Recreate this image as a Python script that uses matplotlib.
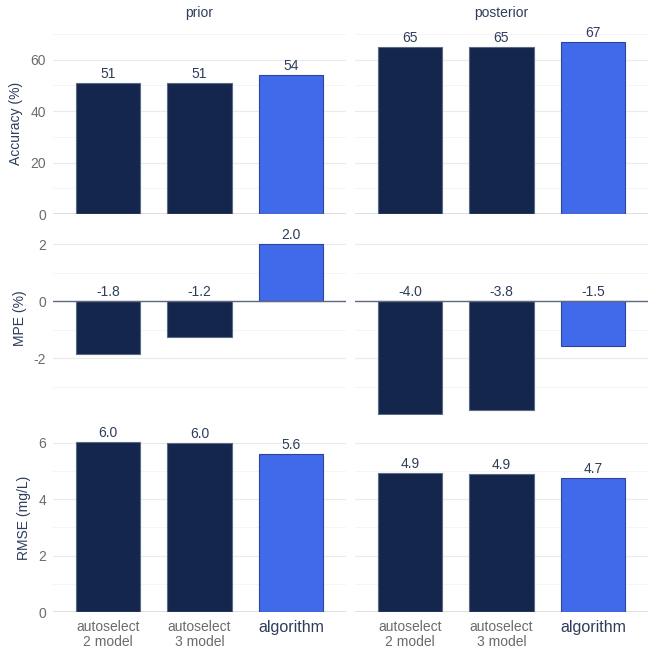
import matplotlib.pyplot as plt
from matplotlib.ticker import MultipleLocator

plt.rcParams["font.family"] = ["Liberation Sans", "DejaVu Sans"]
plt.rcParams["axes.unicode_minus"] = False

# data
methods = ["autoselect\n2 model", "autoselect\n3 model", "algorithm"]
facets = ["prior", "posterior"]
accuracy_prior = [51, 51, 54]
accuracy_post = [65, 65, 67]
mpe_prior = [-1.85, -1.25, 2.0]
mpe_post = [-3.93, -3.82, -1.55]
rmse_prior = [6.02, 5.98, 5.62]
rmse_post = [4.92, 4.89, 4.74]
acc_labels = [["51", "51", "54"], ["65", "65", "67"]]
mpe_labels = [["-1.8", "-1.2", "2.0"], ["-4.0", "-3.8", "-1.5"]]
rmse_labels = [["6.0", "6.0", "5.6"], ["4.9", "4.9", "4.7"]]

rows = [
    ("Accuracy (%)", [accuracy_prior, accuracy_post], acc_labels, (0, 70.8), 20, 10),
    ("MPE (%)", [mpe_prior, mpe_post], mpe_labels, (-3.98, 2.78), 2, 1),
    ("RMSE (mg/L)", [rmse_prior, rmse_post], rmse_labels, (0, 6.67), 2, 1),
]

dark = "#14264b"
blue = "#416aeb"
bar_colors = [dark, dark, blue]
edge_colors = ["#5b6a86", "#5b6a86", "#2c4596"]
navy_text = "#2e3d5c"
tick_gray = "#6b6b6b"

fig = plt.figure(figsize=(6.5, 6.5), dpi=100)
W, H = 650, 650
col_x = [(53, 346), (355, 648)]
row_y = [(32, 214), (222, 415), (424, 612)]

for r, (ylab, series, labels, ylim, major, minor) in enumerate(rows):
    for c in range(2):
        x0, x1 = col_x[c]
        top, bot = row_y[r]
        ax = fig.add_axes([x0 / W, 1 - bot / H, (x1 - x0) / W, (bot - top) / H])
        vals = series[c]
        xs = range(len(methods))
        ax.bar(xs, vals, width=0.7, color=bar_colors, edgecolor=edge_colors,
               linewidth=0.8, zorder=3)
        for i, v in enumerate(vals):
            ypos = max(v, 0)
            ax.annotate(labels[c][i], (i, ypos), xytext=(0, 1.5),
                        textcoords="offset points", ha="center", va="bottom",
                        fontsize=10, color=navy_text, zorder=4)
        ax.set_xlim(-0.6, 2.6)
        ax.set_ylim(*ylim)
        ax.yaxis.set_major_locator(MultipleLocator(major))
        ax.yaxis.set_minor_locator(MultipleLocator(minor))
        ax.grid(which="major", axis="y", color="#ebebeb", linewidth=0.9, zorder=0)
        ax.grid(which="minor", axis="y", color="#f4f4f4", linewidth=0.6, zorder=0)
        ax.axhline(0, color="#5f6a80", linewidth=1.0, zorder=5)
        for s in ax.spines.values():
            s.set_visible(False)
        ax.tick_params(axis="both", which="both", length=0)
        ax.tick_params(axis="y", labelsize=10, labelcolor=tick_gray, pad=5)
        if c == 1:
            ax.set_yticklabels([])
        else:
            ax.set_ylabel(ylab, fontsize=10, color=navy_text, labelpad=5)
        if r == 0:
            ax.set_title(facets[c], fontsize=10, color=navy_text, pad=11)
        if r == 2:
            ax.set_xticks(list(xs))
            ax.set_xticklabels(methods, fontsize=10, color=tick_gray, linespacing=1.05)
            ticks = ax.get_xticklabels()
            ticks[2].set_color(navy_text)
            ticks[2].set_fontsize(11.5)
            ax.tick_params(axis="x", pad=6)
        else:
            ax.set_xticks([])

plt.savefig("out.png", dpi=100)
